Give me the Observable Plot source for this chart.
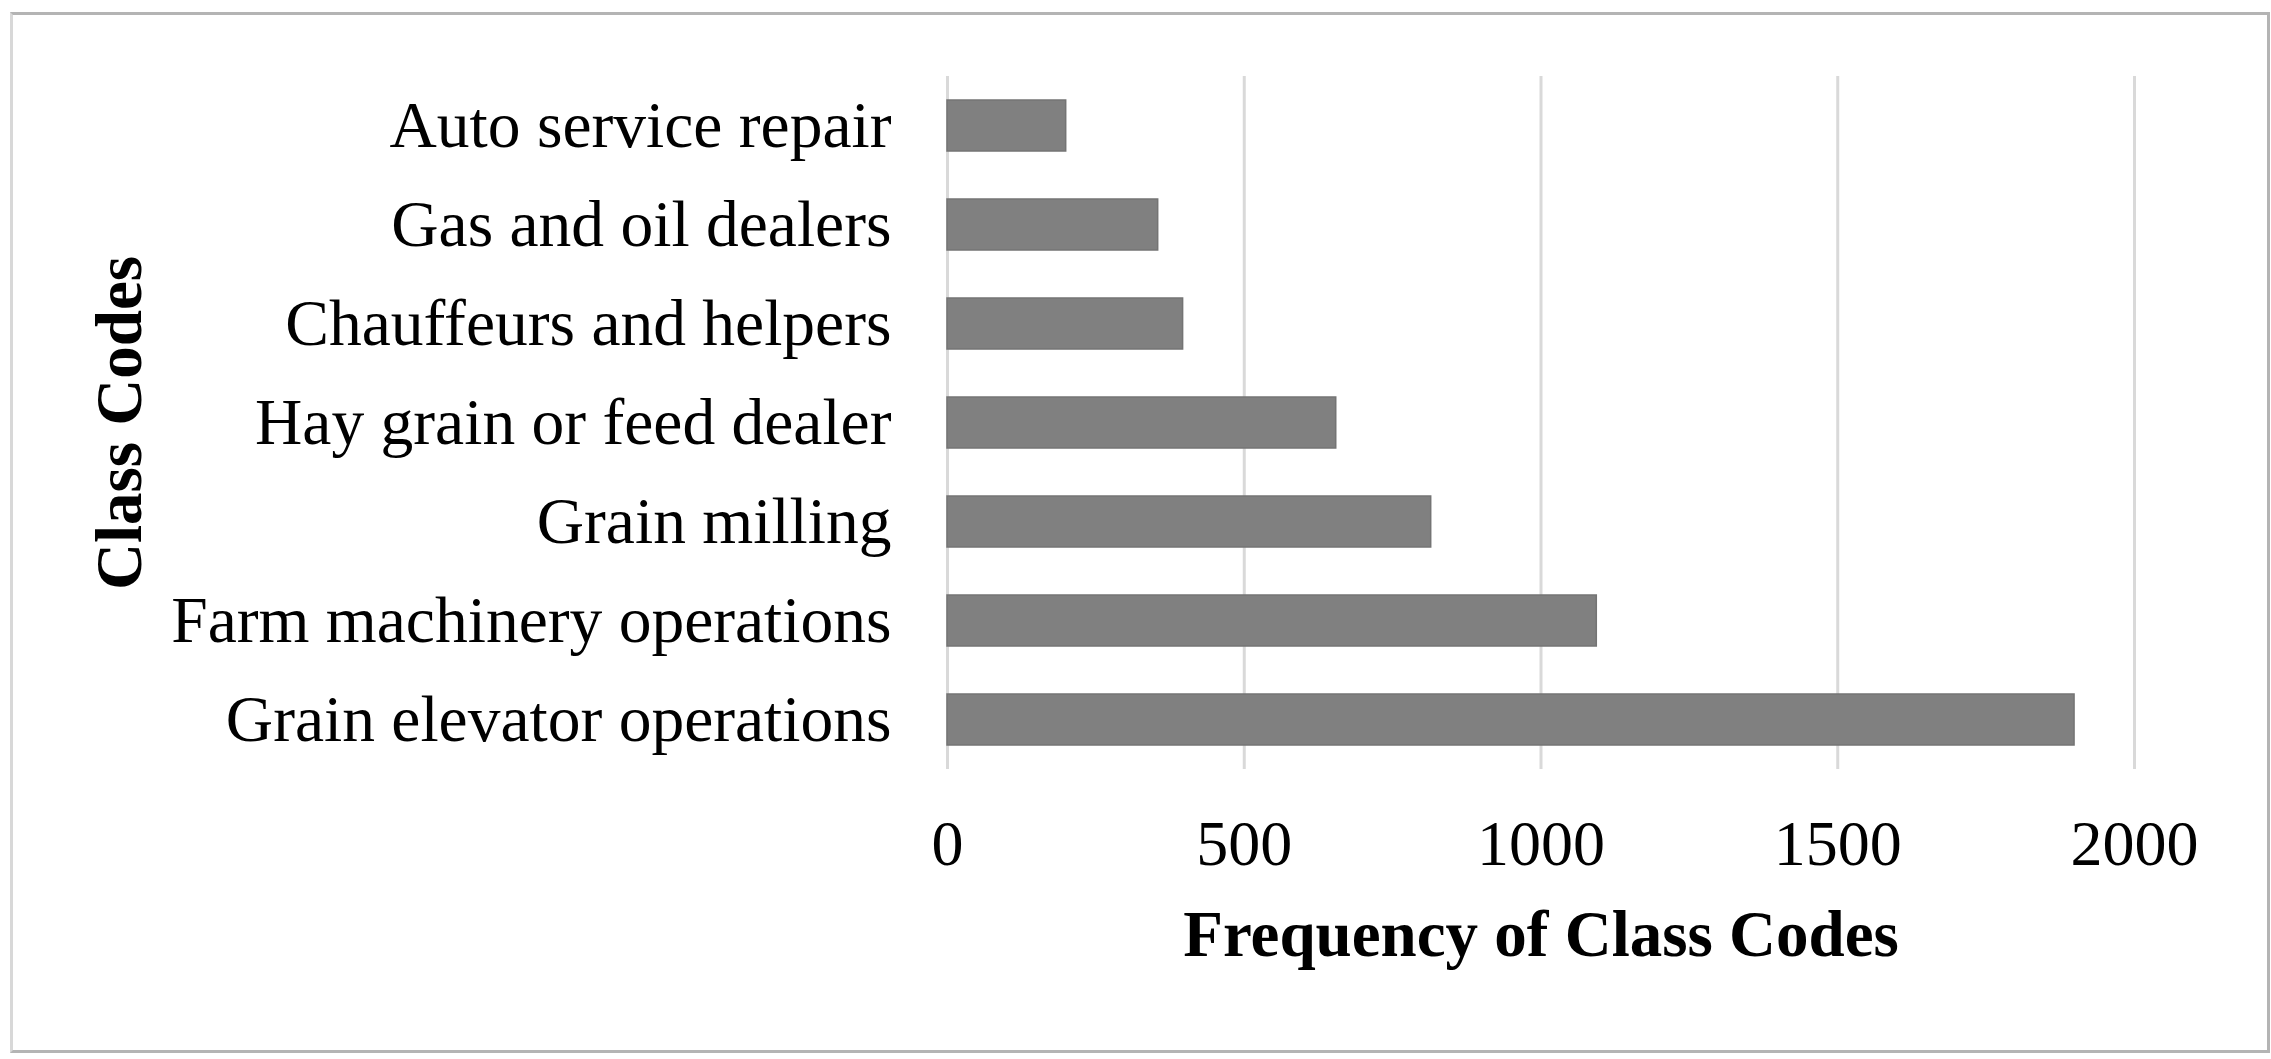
<!DOCTYPE html>
<html>
<head>
<meta charset="utf-8">
<script src="https://cdn.jsdelivr.net/npm/d3@7"></script>
<script src="https://cdn.jsdelivr.net/npm/@observablehq/plot@0.6"></script>
<style>
  html, body { margin: 0; padding: 0; background: #fff; }
  #wrap { position: relative; width: 2271px; height: 1059px; }
  #border { position: absolute; left: 10px; top: 12px; width: 2254px; height: 1035px;
            border: 3px solid #b4b4b4; border-left-color: #d8d8d8; pointer-events: none; }
</style>
</head>
<body>
<div id="wrap"><div id="border"></div></div>
<script>
const categories = [
  "Auto service repair",
  "Gas and oil dealers",
  "Chauffeurs and helpers",
  "Hay grain or feed dealer",
  "Grain milling",
  "Farm machinery operations",
  "Grain elevator operations"
];
const frequencies = [200, 355, 397, 655, 815, 1094, 1899];
const xTicks = [0, 500, 1000, 1500, 2000];
const xTitle = "Frequency of Class Codes";
const yTitle = "Class Codes";

const data = categories.map((c, i) => ({category: c, value: frequencies[i]}));

const chart = Plot.plot({
  width: 2271,
  height: 1059,
  marginLeft: 947,
  marginRight: 137,
  marginTop: 76,
  marginBottom: 290,
  style: {fontFamily: "'Liberation Serif', 'Times New Roman', serif", fontSize: "65px", color: "#000", background: "transparent"},
  x: {domain: [0, 2000], axis: null},
  y: {domain: categories, paddingInner: 0.48, paddingOuter: 0.24, axis: null},
  marks: [
    Plot.gridX(xTicks, {stroke: "#d9d9d9", strokeOpacity: 1, strokeWidth: 3}),
    Plot.barX(data, {x: "value", y: "category", fill: "#808080", stroke: "#747474", strokeWidth: 1.5}),
    Plot.axisX({ticks: xTicks, tickSize: 0, tickPadding: 50, tickFormat: d => String(d), label: null, fontSize: 64, fill: "#000"}),
    Plot.axisY({tickSize: 0, tickPadding: 56, label: null, fontSize: 65.5, fill: "#000"}),
    Plot.text([xTitle], {frameAnchor: "bottom", dy: 186, lineAnchor: "bottom", fontWeight: "bold", fontSize: 65, fill: "#000"}),
    Plot.text([yTitle], {frameAnchor: "left", dx: -827, rotate: -90, textAnchor: "middle", lineAnchor: "middle", fontWeight: "bold", fontSize: 65, fill: "#000"})
  ]
});
document.getElementById("wrap").appendChild(chart);
chart.style.position = "absolute";
chart.style.left = "0";
chart.style.top = "0";
</script>
</body>
</html>
